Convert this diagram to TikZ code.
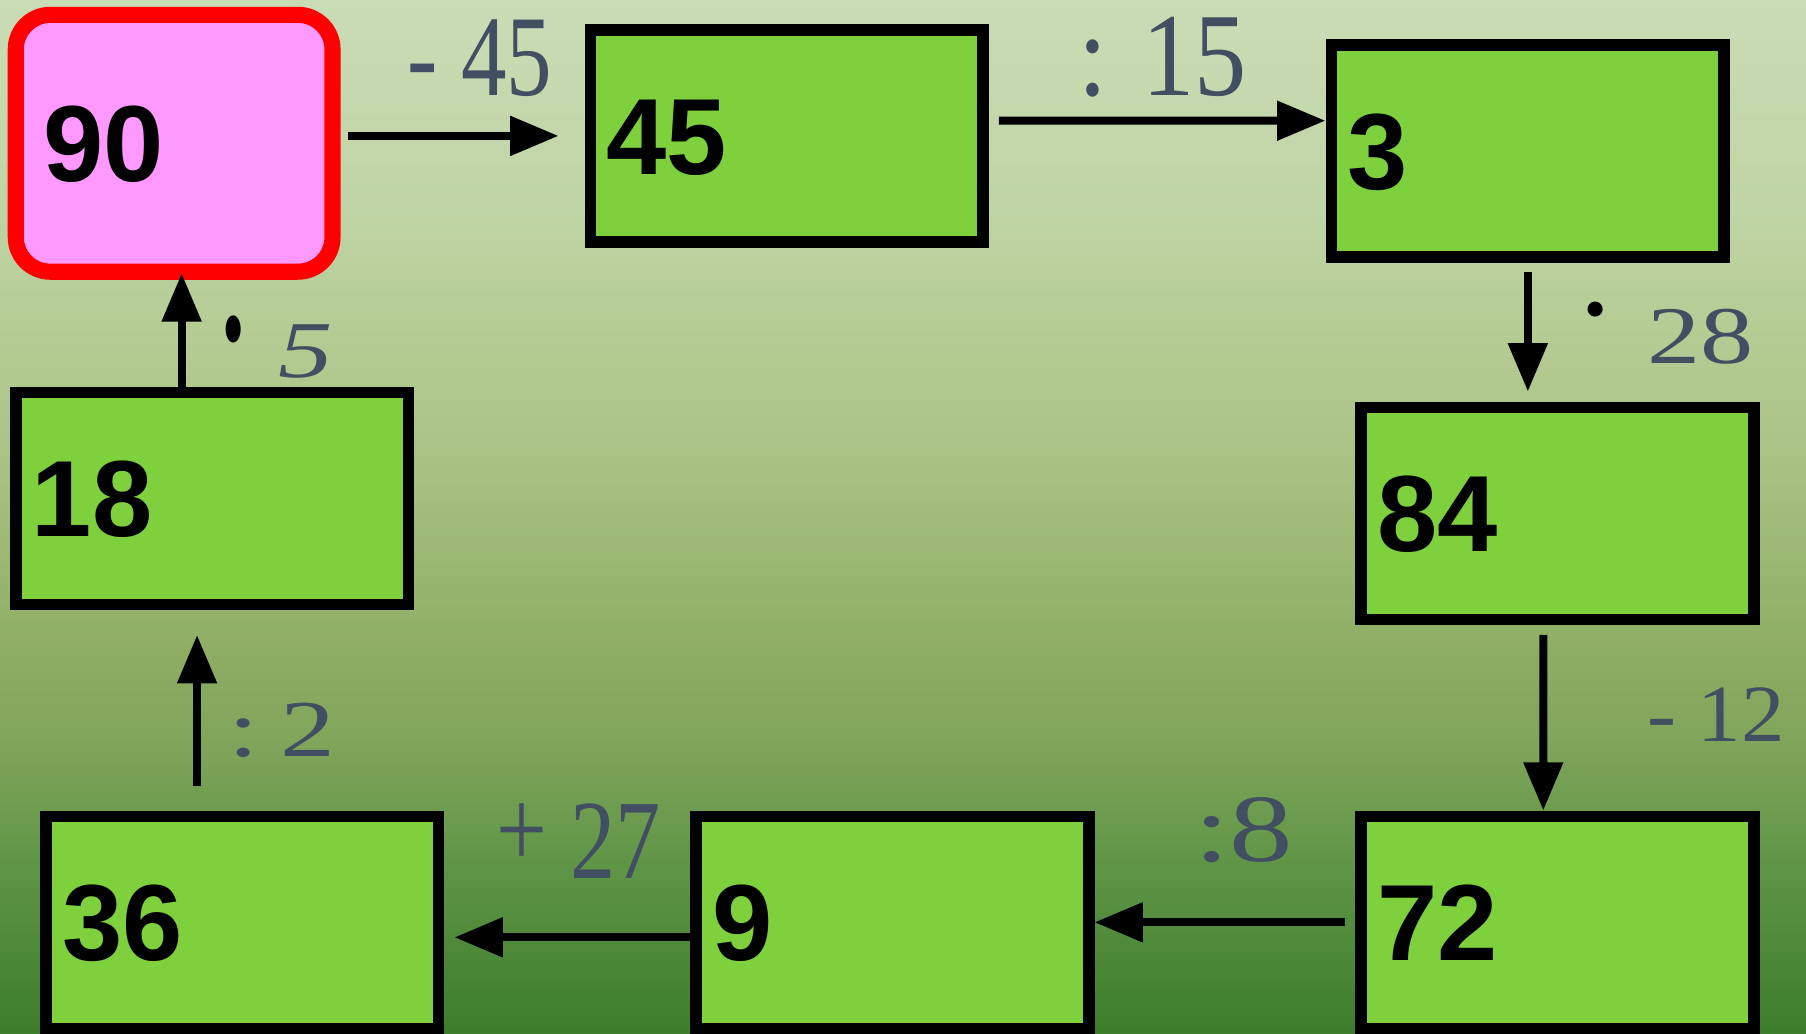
\documentclass[tikz,border=0pt]{standalone}
\usepackage{fontspec}
\usepackage{graphicx}
\setmainfont{Liberation Serif}
\newfontfamily\boxfont{Liberation Sans}
\usetikzlibrary{arrows.meta}
\definecolor{boxgreen}{RGB}{126,209,60}
\definecolor{pinkfill}{RGB}{255,153,255}
\definecolor{slate}{RGB}{66,78,98}
\definecolor{g0}{RGB}{60,125,43}
\definecolor{g1}{RGB}{95,149,70}
\definecolor{g2}{RGB}{126,164,90}
\definecolor{g3}{RGB}{143,174,100}
\definecolor{g4}{RGB}{169,194,131}
\definecolor{g5}{RGB}{190,211,162}
\definecolor{g6}{RGB}{202,220,182}
\pgfdeclareverticalshading{bgshade}{100bp}{color(0bp)=(g0); color(25bp)=(g0); color(33.2bp)=(g1); color(38.75bp)=(g2); color(43.8bp)=(g3); color(52.7bp)=(g4); color(63.85bp)=(g5); color(75bp)=(g6); color(100bp)=(g6)}
\newcommand\labsize[1]{\fontsize{#1}{#1}\selectfont}
\tikzset{
  gbox/.style={draw=black, line width=10pt, fill=boxgreen, minimum width=341pt, minimum height=184pt,
    text width=313pt, inner xsep=14pt, inner ysep=0pt, outer sep=0pt, align=left,
    font=\boxfont\bfseries\labsize{94}, text height=67pt, text depth=0pt},
  startbox/.style={draw=red, line width=14pt, fill=pinkfill, rounded corners=30pt, minimum width=275pt, minimum height=223pt,
    text width=227pt, inner xsep=24pt, inner ysep=0pt, outer sep=0pt, align=left,
    font=\boxfont\bfseries\labsize{94}, text height=67pt, text depth=0pt},
  arr/.style={line width=7pt, -{Triangle[length=42pt,width=33pt]}},
  lab/.style={text=slate, inner sep=0pt, anchor=base west},
  dotlab/.style={text=black, inner sep=0pt, anchor=base},
}
\begin{document}
\begin{tikzpicture}[x=1pt,y=1pt]
\useasboundingbox (0,0) rectangle (1568,897);
\shade[shading=bgshade] (0,0) rectangle (1568,897);

\node[startbox] (n90) at (151.2,772.6) {90};
\node[gbox] (n45) at (683,779.1) {45};
\node[gbox] (n3) at (1326.5,766) {3};
\node[gbox] (n84) at (1352.2,451.3) {84};
\node[gbox] (n72) at (1352.3,96.2) {72};
\node[gbox] (n9) at (774.9,96.2) {9};
\node[gbox] (n36) at (210.4,96.2) {36};
\node[gbox] (n18) at (184.2,464.3) {18};

\draw[arr] ([xshift=13.3pt,yshift=6.4pt]n90.east) -- ([xshift=-27.5pt,yshift=-0.1pt]n45.west);
\draw[arr] ([xshift=13.8pt,yshift=13.1pt]n45.east) -- ([xshift=-5.2pt,yshift=26.2pt]n3.west);
\draw[arr] ([yshift=-12.9pt]n3.south) -- ([xshift=-25.7pt,yshift=13.7pt]n84.north);
\draw[arr] ([xshift=-12.3pt,yshift=-13.6pt]n84.south) -- ([xshift=-12.4pt,yshift=5pt]n72.north);
\draw[arr] ([xshift=-14.1pt]n72.west) -- ([xshift=4.8pt]n9.east);
\draw[arr] ([xshift=-4.4pt,yshift=-13pt]n9.west) -- ([xshift=13.6pt,yshift=-13pt]n36.east);
\draw[arr] ([xshift=-39.3pt,yshift=26.4pt]n36.north) -- ([xshift=-13.1pt,yshift=-26.6pt]n18.south);
\draw[arr] ([xshift=-26.5pt]n18.north) -- ([xshift=6.5pt,yshift=-1.3pt]n90.south);

\node[lab] (l45) at (354,814.5) {\labsize{100}\scalebox{0.79}[1]{- 45}};
\node[lab] (l15) at (936,814.5) {\labsize{103}\scalebox{0.88}[1]{: 15}};
\node[dotlab] (d28) at (1385.4,592) {\labsize{110}·};
\node[lab] (l28) at (1429.8,581.5) {\labsize{71}\scalebox{1.3}[1]{28}};
\node[dotlab] (d5) at (202.6,545) {\labsize{105}\scalebox{1.05}[1.9]{·}};
\node[lab] (l5) at (241.6,569) {\labsize{70}\itshape\scalebox{1.35}[1]{5}};
\node[lab] (l12) at (1430,253) {\labsize{70.5}\scalebox{1.07}[1]{- 12}};
\node[lab] (l2) at (198,240.6) {\labsize{70}\scalebox{1.36}[1]{:\hspace{14pt}2}};
\node[lab] (l27) at (431,134.4) {\labsize{98}\scalebox{0.8}[1]{\raisebox{9pt}{+} 27}};
\node[lab] (l8) at (1036.6,149) {\labsize{83.5}\scalebox{1.32}[1]{:8}};
\end{tikzpicture}
\end{document}
